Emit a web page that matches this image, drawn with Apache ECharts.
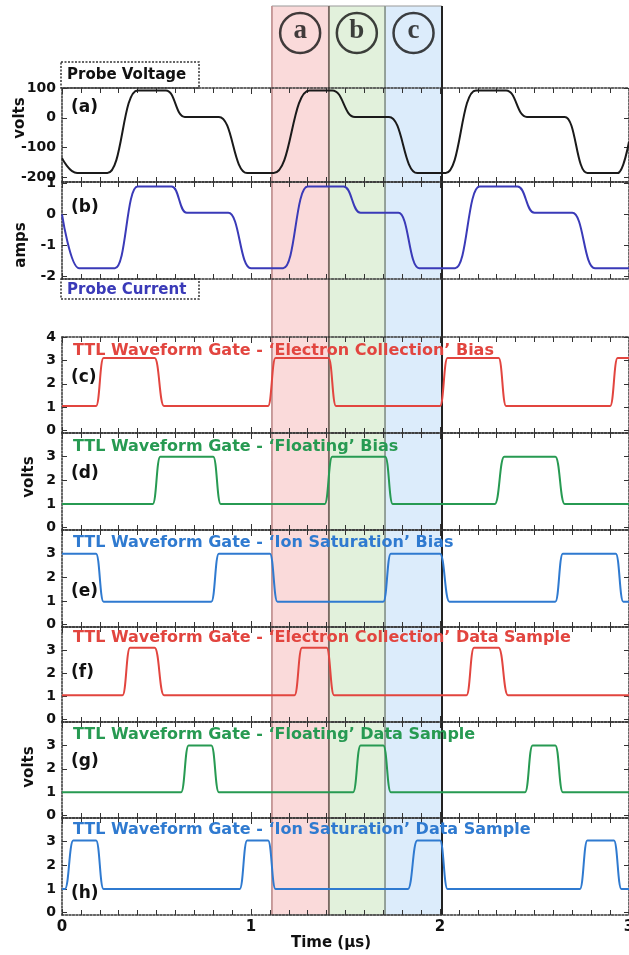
<!DOCTYPE html>
<html><head><meta charset="utf-8">
<script src="https://cdn.jsdelivr.net/npm/echarts@6/dist/echarts.min.js"></script>
<style>html,body{margin:0;padding:0;background:#fff}#chart{width:629px;height:955px}</style>
</head><body><div id="chart"></div>
<script>
// ---- data ----
const timeTicks = [0, 1, 2, 3];
const voltTicks = [-200, -100, 0, 100];
const ampTicks = [-2, -1, 0, 1];
const ttlTicksFirst = [0, 1, 2, 3, 4];
const ttlTicks = [0, 1, 2, 3];
const regionLetters = ['a', 'b', 'c'];
const regionBounds = [1.11, 1.41, 1.71, 2.01];

const probeVoltage = [[0,-135],[0.08,-185],[0.24,-185],[0.40,92],[0.55,92],[0.65,3],[0.83,3],[0.98,-185],[1.12,-185],[1.31,92],[1.43,92],[1.55,3],[1.73,3],[1.88,-185],[2.03,-185],[2.19,92],[2.35,92],[2.46,3],[2.66,3],[2.78,-185],[2.94,-185],[3.0,-80]];
const probeCurrent = [[0,0],[0.09,-1.75],[0.28,-1.75],[0.40,0.9],[0.58,0.9],[0.66,0.05],[0.88,0.05],[1.0,-1.75],[1.17,-1.75],[1.30,0.9],[1.49,0.9],[1.58,0.05],[1.78,0.05],[1.89,-1.75],[2.08,-1.75],[2.21,0.9],[2.41,0.9],[2.50,0.05],[2.70,0.05],[2.82,-1.75],[3.0,-1.75]];
const gateElectronBias = [[0,1.05],[0.18,1.05],[0.22,3.1],[0.49,3.1],[0.54,1.05],[1.09,1.05],[1.13,3.1],[1.41,3.1],[1.45,1.05],[2.0,1.05],[2.04,3.1],[2.31,3.1],[2.35,1.05],[2.90,1.05],[2.94,3.1],[3.0,3.1]];
const gateFloatingBias = [[0,1.0],[0.48,1.0],[0.52,3.0],[0.80,3.0],[0.84,1.0],[1.39,1.0],[1.43,3.0],[1.71,3.0],[1.75,1.0],[2.29,1.0],[2.34,3.0],[2.61,3.0],[2.66,1.0],[3.0,1.0]];
const gateIonBias = [[0,3.0],[0.18,3.0],[0.22,0.97],[0.79,0.97],[0.83,3.0],[1.10,3.0],[1.14,0.97],[1.70,0.97],[1.74,3.0],[2.0,3.0],[2.05,0.97],[2.61,0.97],[2.65,3.0],[2.93,3.0],[2.97,0.97],[3.0,0.97]];
const gateElectronSample = [[0,1.05],[0.32,1.05],[0.36,3.1],[0.49,3.1],[0.54,1.05],[1.23,1.05],[1.27,3.1],[1.40,3.1],[1.44,1.05],[2.14,1.05],[2.18,3.1],[2.31,3.1],[2.36,1.05],[3.0,1.05]];
const gateFloatingSample = [[0,1.0],[0.63,1.0],[0.67,3.0],[0.79,3.0],[0.83,1.0],[1.54,1.0],[1.58,3.0],[1.70,3.0],[1.74,1.0],[2.45,1.0],[2.49,3.0],[2.61,3.0],[2.65,1.0],[3.0,1.0]];
const gateIonSample = [[0,1.0],[0.015,1.0],[0.06,3.05],[0.18,3.05],[0.22,1.0],[0.94,1.0],[0.98,3.05],[1.09,3.05],[1.13,1.0],[1.83,1.0],[1.88,3.05],[2.0,3.05],[2.04,1.0],[2.74,1.0],[2.78,3.05],[2.92,3.05],[2.96,1.0],[3.0,1.0]];

const panelLetters = ['(a)','(b)','(c)','(d)','(e)','(f)','(g)','(h)'];
const panelTitles = ['', '',
  'TTL Waveform Gate - \u2018Electron Collection\u2019 Bias',
  'TTL Waveform Gate - \u2018Floating\u2019 Bias',
  'TTL Waveform Gate - \u2018Ion Saturation\u2019 Bias',
  'TTL Waveform Gate - \u2018Electron Collection\u2019 Data Sample',
  'TTL Waveform Gate - \u2018Floating\u2019 Data Sample',
  'TTL Waveform Gate - \u2018Ion Saturation\u2019 Data Sample'];

// ---- layout / style ----
const FONT = 'DejaVu Sans';
const RED = '#e2453f', GREEN = '#279a52', BLUE = '#2f7ad0', BLACK = '#1a1a1a', PURPLE = '#3a3ab8';
const LEFT = 62, WIDTH = 567;
const panels = [
  {top: 88,  h: 94, data: probeVoltage, color: BLACK, min: -215, max: 100, ticks: voltTicks, letterY: 108},
  {top: 182, h: 97, data: probeCurrent, color: PURPLE, min: -2.1, max: 1.05, ticks: ampTicks, letterY: 208},
  {top: 337, h: 96, data: gateElectronBias, color: RED, min: -0.1, max: 4, ticks: ttlTicksFirst, letterY: 378, titleY: 351},
  {top: 433, h: 97, data: gateFloatingBias, color: GREEN, min: -0.1, max: 4, ticks: ttlTicks, letterY: 474, titleY: 447},
  {top: 530, h: 97, data: gateIonBias, color: BLUE, min: -0.1, max: 4, ticks: ttlTicks, letterY: 592, titleY: 543},
  {top: 627, h: 95, data: gateElectronSample, color: RED, min: -0.1, max: 4, ticks: ttlTicks, letterY: 673, titleY: 638},
  {top: 722, h: 96, data: gateFloatingSample, color: GREEN, min: -0.1, max: 4, ticks: ttlTicks, letterY: 762, titleY: 735},
  {top: 818, h: 97, data: gateIonSample, color: BLUE, min: -0.1, max: 4, ticks: ttlTicks, letterY: 894, titleY: 830}
];
const borderStyle = {color: '#333', width: 1.5, type: [2, 1.5]};
const regionFill = ['#fadada', '#e2f1dc', '#dcecfb'];
const regionLineColors = ['#c89090', '#6e5a52', '#8a9a90', '#222'];

const gridBase = {left: LEFT, width: WIDTH, outerBoundsMode: 'none', containLabel: false};
const grids = [
  Object.assign({}, gridBase, {top: 6, height: 909}),   // overlay for shaded regions
  Object.assign({}, gridBase, {top: 11, height: 44})    // header with circled letters
];
const xAxes = [
  {gridIndex: 0, type: 'value', min: 0, max: 3, show: false},
  {gridIndex: 1, type: 'value', min: 0, max: 3, show: false}
];
const yAxes = [
  {gridIndex: 0, type: 'value', min: 0, max: 1, show: false},
  {gridIndex: 1, type: 'value', min: 0, max: 1, show: false}
];
const series = [];

// shaded regions
const areaData = regionLetters.map((l, i) => [
  {xAxis: regionBounds[i], itemStyle: {color: regionFill[i], borderColor: '#999', borderWidth: 1}},
  {xAxis: regionBounds[i + 1]}
]);
series.push({
  type: 'line', xAxisIndex: 0, yAxisIndex: 0, data: [], z: 1, silent: true,
  markArea: {silent: true, data: areaData},
  markLine: {silent: true, symbol: 'none', label: {show: false},
    data: regionBounds.map((b, i) => ({xAxis: b, lineStyle: {color: regionLineColors[i], width: i === 3 ? 2 : 1.5, type: 'solid'}}))}
});
// circled letters
series.push({
  type: 'scatter', xAxisIndex: 1, yAxisIndex: 1, z: 8, silent: true,
  data: regionLetters.map((l, i) => ({value: [(regionBounds[i] + regionBounds[i + 1]) / 2, 0.5], name: l})),
  symbol: 'circle', symbolSize: 40,
  itemStyle: {color: 'rgba(255,255,255,0)', borderColor: '#111', borderWidth: 2.5},
  label: {show: true, position: 'inside', formatter: p => p.name, color: '#111',
    fontFamily: 'Liberation Serif', fontWeight: 'bold', fontSize: 27, offset: [0, -2]}
});

panels.forEach((p, i) => {
  const g = grids.length;
  grids.push(Object.assign({}, gridBase, {top: p.top, height: p.h}));
  const last = i === panels.length - 1;
  const xBase = {
    gridIndex: g, type: 'value', min: 0, max: 3, interval: 1, z: 5,
    axisLine: {show: true, lineStyle: borderStyle, onZero: false},
    axisTick: {show: true, inside: true, length: 6, lineStyle: {color: '#333', width: 1}},
    minorTick: {show: true, splitNumber: 10, length: 5, lineStyle: {color: '#333', width: 1}},
    splitLine: {show: false}, minorSplitLine: {show: false}
  };
  xAxes.push(Object.assign({}, xBase, {position: 'bottom',
    axisLabel: {show: last, margin: 5, color: '#111', fontFamily: FONT, fontWeight: 'bold', fontSize: 15,
      customValues: timeTicks, formatter: v => String(v), hideOverlap: false}}));
  xAxes.push(Object.assign({}, xBase, {position: 'top', axisLabel: {show: false}}));
  const yBase = {
    gridIndex: g, type: 'value', min: p.min, max: p.max, z: 5,
    axisLine: {show: true, lineStyle: borderStyle, onZero: false},
    axisTick: {show: true, inside: true, length: 5, customValues: p.ticks, lineStyle: {color: '#333', width: 1}},
    splitLine: {show: false}
  };
  yAxes.push(Object.assign({}, yBase, {position: 'left',
    axisLabel: {show: true, margin: 6, color: '#111', fontFamily: FONT, fontWeight: 'bold', fontSize: 14,
      customValues: p.ticks, formatter: v => String(v)}}));
  yAxes.push(Object.assign({}, yBase, {position: 'right', axisLabel: {show: false}}));
  series.push({
    type: 'line', xAxisIndex: xAxes.length - 2, yAxisIndex: yAxes.length - 2,
    data: p.data, showSymbol: false, smooth: 0.5, smoothMonotone: 'x', z: 6,
    lineStyle: {color: p.color, width: 2}, silent: true, animation: false
  });
});

// ---- text annotations ----
const graphic = [];
const txt = (text, x, y, size, color, align) => ({
  type: 'text', x: x, y: y, z: 20, silent: true,
  style: {text: text, fill: color, fontFamily: FONT, fontWeight: 'bold', fontSize: size, align: align || 'left', verticalAlign: 'middle'}
});
graphic.push({type: 'rect', z: 20, silent: true, shape: {x: 61, y: 62, width: 138, height: 26},
  style: {fill: 'none', stroke: '#333', lineWidth: 1.5, lineDash: [2, 1.5]}});
graphic.push(txt('Probe Voltage', 67, 75, 15, '#111'));
graphic.push({type: 'rect', z: 20, silent: true, shape: {x: 61, y: 279, width: 138, height: 20},
  style: {fill: 'none', stroke: '#333', lineWidth: 1.5, lineDash: [2, 1.5]}});
graphic.push(txt('Probe Current', 67, 290, 15, PURPLE));
panels.forEach((p, i) => {
  graphic.push(txt(panelLetters[i], 71, p.letterY, 17, '#111'));
  if (panelTitles[i]) graphic.push(txt(panelTitles[i], 73, p.titleY, 16, p.color));
});
const rot = (text, x, y) => ({type: 'text', x: x, y: y, rotation: Math.PI / 2, z: 20, silent: true,
  style: {text: text, fill: '#111', fontFamily: FONT, fontWeight: 'bold', fontSize: 15, align: 'center', verticalAlign: 'middle'}});
graphic.push(rot('volts', 20, 118));
graphic.push(rot('amps', 21, 245));
graphic.push(rot('volts', 29, 477));
graphic.push(rot('volts', 29, 767));
graphic.push(txt('Time (\u00b5s)', 331, 943, 15, '#111', 'center'));

const chart = echarts.init(document.getElementById('chart'), null, {renderer: 'canvas'});
chart.setOption({
  animation: false,
  backgroundColor: '#fff',
  grid: grids, xAxis: xAxes, yAxis: yAxes, series: series, graphic: graphic
});
</script></body></html>
